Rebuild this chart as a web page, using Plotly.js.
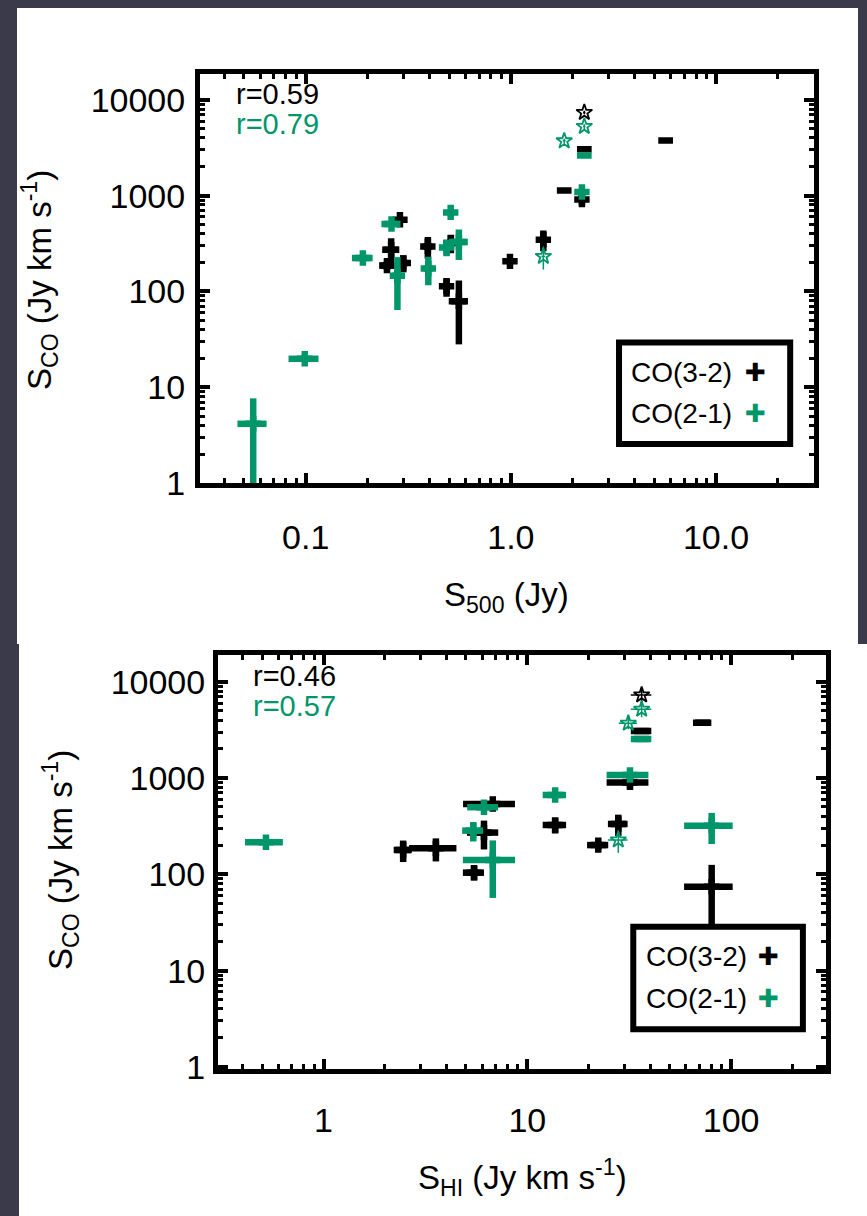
<!DOCTYPE html>
<html>
<head>
<meta charset="utf-8">
<script src="https://cdn.plot.ly/plotly-3.0.1.min.js"></script>
<style>
  html, body { margin: 0; padding: 0; background: #3b3a4a; }
  #chart { width: 867px; height: 1216px; }
</style>
</head>
<body>
<div id="chart"></div>
<script>
// ---------------- DATA ----------------
// Top panel: S_500 (Jy) vs S_CO (Jy km/s)
// CO(3-2)
const top32PlusS500 = [0.288, 0.261, 0.249, 0.299, 0.394, 0.51, 0.486, 0.558, 0.99, 1.44, 2.22];
const top32PlusSCO  = [561, 273, 186, 198, 295, 321, 113, 79, 206, 347, 910];
const top32PlusErrX = [0.01, 0.025, 0.02, 0.015, 0.02, 0.02, 0.02, 0.06, 0.02, 0.05, 0.05];
const top32PlusErrY = [20, 85, 20, 40, 75, 70, 25, 51, 15, 85, 110];
const top32DashS500 = [1.82, 2.28, 5.68];
const top32DashSCO  = [1133, 3050, 3770];
const top32StarS500 = [2.28];
const top32StarSCO  = [7380];
const top32StarErrX = [0.03];
const top32StarErrY = [300];
// CO(2-1)
const top21PlusS500 = [0.0555, 0.099, 0.19, 0.262, 0.28, 0.396, 0.509, 0.486, 0.558, 2.22];
const top21PlusSCO  = [4.15, 19.8, 223, 506, 146, 173, 668, 288, 328, 1090];
const top21PlusErrX = [0.009, 0.0165, 0.022, 0.028, 0.015, 0.02, 0.02, 0.02, 0.059, 0.05];
const top21PlusErrY = [3.5, 0.8, 10, 30, 82, 57, 30, 55, 115, 60];
const top21DashS500 = [2.28];
const top21DashSCO  = [2620];
const top21StarS500 = [1.44, 1.82, 2.28];
const top21StarSCO  = [232, 3730, 5270];
const top21StarErrX = [0.03, 0.03, 0.03];
const top21StarErrY = [63, 200, 300];
const topR = ['r=0.59', 'r=0.79'];

// Bottom panel: S_HI (Jy km/s) vs S_CO (Jy km/s)
// CO(3-2)
const bot32PlusSHI  = [2.46, 3.56, 6.77, 6.13, 5.48, 13.7, 22.3, 27.96, 31.9, 80.3];
const bot32PlusSCO  = [179, 186, 537, 271, 104, 325, 201, 333, 900, 74.3];
const bot32PlusErrX = [0.25, 0.93, 1.93, 1.07, 0.65, 1.8, 2.65, 3.1, 7.4, 21.5];
const bot32PlusErrY = [45, 50, 15, 90, 18, 60, 20, 83, 100, 51];
const bot32DashSHI  = [36.4, 72.5];
const bot32DashSCO  = [3077, 3750];
const bot32DashErrX = [4.2, 7.5];
const bot32StarSHI  = [36.4];
const bot32StarSCO  = [7280];
const bot32StarErrX = [4.2];
const bot32StarErrY = [1300];
// CO(2-1)
const bot21PlusSHI  = [0.522, 6.13, 5.43, 6.77, 13.7, 31.9, 80.3];
const bot21PlusSCO  = [215, 497, 284, 140.8, 666, 1075, 320];
const bot21PlusErrX = [0.11, 1.06, 0.64, 1.94, 1.8, 7.4, 21.5];
const bot21PlusErrY = [8, 40, 65, 84, 30, 60, 114];
const bot21DashSHI  = [36.4];
const bot21DashSCO  = [2543];
const bot21DashErrX = [4.2];
const bot21StarSHI  = [27.96, 31.3, 36.4];
const bot21StarSCO  = [227, 3700, 5170];
const bot21StarErrX = [3.1, 3.2, 4.2];
const bot21StarErrY = [60, 500, 900];
const botR = ['r=0.46', 'r=0.57'];

const legendLabels = ['CO(3-2)', 'CO(2-1)'];

// ---------------- STYLE ----------------
const BLACK = '#000000';
const GREEN = '#00966a';
const FONT = 'Liberation Sans, Arial, Helvetica, sans-serif';

function plusTrace(x, y, ex, ey, color, xa, ya) {
  return {
    type: 'scatter', mode: 'markers', x: x, y: y, xaxis: xa, yaxis: ya,
    showlegend: false, hoverinfo: 'skip',
    marker: { symbol: 'cross-thin-open', size: 11, color: color, line: { width: 6.5, color: color } },
    error_x: { type: 'data', array: ex, symmetric: true, thickness: 6.5, width: 0, color: color },
    error_y: { type: 'data', array: ey, symmetric: true, thickness: 6.5, width: 0, color: color }
  };
}
function dashTrace(x, y, ex, color, xa, ya) {
  const t = {
    type: 'scatter', mode: 'markers', x: x, y: y, xaxis: xa, yaxis: ya,
    showlegend: false, hoverinfo: 'skip',
    marker: { symbol: 'line-ew-open', size: 10.5, color: color, line: { width: 6.5, color: color } }
  };
  if (ex) t.error_x = { type: 'data', array: ex, symmetric: true, thickness: 6.5, width: 0, color: color };
  return t;
}
function starTrace(x, y, ex, ey, color, xa, ya) {
  return {
    type: 'scatter', mode: 'markers', x: x, y: y, xaxis: xa, yaxis: ya,
    showlegend: false, hoverinfo: 'skip',
    marker: { symbol: 'star-open', size: 12, color: color, line: { width: 1.8, color: color } },
    error_x: { type: 'data', array: ex, symmetric: true, thickness: 1.5, width: 0, color: color },
    error_y: { type: 'data', array: ey, symmetric: true, thickness: 1.5, width: 0, color: color }
  };
}

const traces = [
  plusTrace(top32PlusS500, top32PlusSCO, top32PlusErrX, top32PlusErrY, BLACK, 'x', 'y'),
  dashTrace(top32DashS500, top32DashSCO, null, BLACK, 'x', 'y'),
  starTrace(top32StarS500, top32StarSCO, top32StarErrX, top32StarErrY, BLACK, 'x', 'y'),
  plusTrace(top21PlusS500, top21PlusSCO, top21PlusErrX, top21PlusErrY, GREEN, 'x', 'y'),
  dashTrace(top21DashS500, top21DashSCO, null, GREEN, 'x', 'y'),
  starTrace(top21StarS500, top21StarSCO, top21StarErrX, top21StarErrY, GREEN, 'x', 'y'),

  plusTrace(bot32PlusSHI, bot32PlusSCO, bot32PlusErrX, bot32PlusErrY, BLACK, 'x2', 'y2'),
  dashTrace(bot32DashSHI, bot32DashSCO, bot32DashErrX, BLACK, 'x2', 'y2'),
  starTrace(bot32StarSHI, bot32StarSCO, bot32StarErrX, bot32StarErrY, BLACK, 'x2', 'y2'),
  plusTrace(bot21PlusSHI, bot21PlusSCO, bot21PlusErrX, bot21PlusErrY, GREEN, 'x2', 'y2'),
  dashTrace(bot21DashSHI, bot21DashSCO, bot21DashErrX, GREEN, 'x2', 'y2'),
  starTrace(bot21StarSHI, bot21StarSCO, bot21StarErrX, bot21StarErrY, GREEN, 'x2', 'y2')
];

const W = 867, H = 1216;
function axisCommon(extra) {
  return Object.assign({
    type: 'log', showgrid: false, zeroline: false,
    showline: true, linewidth: 5, linecolor: BLACK, mirror: 'allticks',
    ticks: 'inside', ticklen: 10, tickwidth: 4, tickcolor: BLACK,
    tickmode: 'linear', tick0: 0, dtick: 1,
    minor: { ticks: 'inside', ticklen: 5, tickwidth: 3, tickcolor: BLACK, dtick: 'D1' },
    tickfont: { family: FONT, size: 34, color: BLACK }
  }, extra);
}

const layout = {
  width: W, height: H,
  margin: { l: 0, r: 0, t: 0, b: 0 },
  paper_bgcolor: '#3b3a4a',
  plot_bgcolor: '#ffffff',
  showlegend: false,
  xaxis: axisCommon({ domain: [200 / W, 813.5 / W], range: [-1.515, 1.475], anchor: 'y', tickformat: '.1f', ticklabelstandoff: 20 }),
  yaxis: axisCommon({ domain: [1 - 483 / H, 1 - 73.5 / H], range: [0, 4.275], anchor: 'x', tickformat: 'd', ticklabelstandoff: 3 }),
  xaxis2: axisCommon({ domain: [218 / W, 826 / W], range: [-0.5177, 2.4657], anchor: 'y2', tickformat: 'd', ticklabelstandoff: 18 }),
  yaxis2: axisCommon({ domain: [1 - 1068.5 / H, 1 - 655 / H], range: [-0.0166, 4.277], anchor: 'x2', tickformat: 'd', ticklabelstandoff: 1 }),
  shapes: [
    // white panels
    { type: 'rect', xref: 'paper', yref: 'paper', x0: 17 / W, x1: 858 / W, y0: 1 - 644 / H, y1: 1 - 8 / H,
      fillcolor: '#ffffff', line: { width: 0 }, layer: 'below' },
    { type: 'rect', xref: 'paper', yref: 'paper', x0: 19 / W, x1: 1, y0: 0, y1: 1 - 644 / H,
      fillcolor: '#ffffff', line: { width: 0 }, layer: 'below' },
    // legend boxes
    { type: 'rect', xref: 'x domain', yref: 'y domain', x0: 0.683, x1: 0.962, y0: 0.095, y1: 0.343,
      fillcolor: '#ffffff', line: { width: 6, color: BLACK }, layer: 'above' },
    { type: 'rect', xref: 'x2 domain', yref: 'y2 domain', x0: 0.683, x1: 0.962, y0: 0.095, y1: 0.343,
      fillcolor: '#ffffff', line: { width: 6, color: BLACK }, layer: 'above' }
  ],
  annotations: []
};

function addPanelText(xref, yref, rTexts) {
  layout.annotations.push(
    { xref: xref, yref: yref, x: 0.055, y: 0.950, xanchor: 'left', yanchor: 'middle', showarrow: false,
      text: rTexts[0], font: { family: FONT, size: 29, color: BLACK } },
    { xref: xref, yref: yref, x: 0.055, y: 0.877, xanchor: 'left', yanchor: 'middle', showarrow: false,
      text: rTexts[1], font: { family: FONT, size: 29, color: GREEN } },
    { xref: xref, yref: yref, x: 0.700, y: 0.270, xanchor: 'left', yanchor: 'middle', showarrow: false,
      text: legendLabels[0], font: { family: FONT, size: 28, color: BLACK } },
    { xref: xref, yref: yref, x: 0.700, y: 0.170, xanchor: 'left', yanchor: 'middle', showarrow: false,
      text: legendLabels[1], font: { family: FONT, size: 28, color: BLACK } },
    { xref: xref, yref: yref, x: 0.906, y: 0.270, xanchor: 'center', yanchor: 'middle', showarrow: false,
      text: '\u271A', font: { family: 'DejaVu Sans', size: 25, color: BLACK } },
    { xref: xref, yref: yref, x: 0.906, y: 0.170, xanchor: 'center', yanchor: 'middle', showarrow: false,
      text: '\u271A', font: { family: 'DejaVu Sans', size: 25, color: GREEN } }
  );
}
addPanelText('x domain', 'y domain', topR);
addPanelText('x2 domain', 'y2 domain', botR);

// axis titles (as annotations for exact placement)
const titleFont = { family: FONT, size: 33, color: BLACK };
layout.annotations.push(
  { xref: 'paper', yref: 'paper', x: 39 / W, y: 1 - 280 / H, textangle: -90, showarrow: false,
    xanchor: 'center', yanchor: 'middle', text: 'S<sub>CO</sub> (Jy km s<sup>-1</sup>)', font: titleFont },
  { xref: 'paper', yref: 'paper', x: 506 / W, y: 1 - 597 / H, showarrow: false,
    xanchor: 'center', yanchor: 'middle', text: 'S<sub>500</sub> (Jy)', font: titleFont },
  { xref: 'paper', yref: 'paper', x: 60 / W, y: 1 - 860 / H, textangle: -90, showarrow: false,
    xanchor: 'center', yanchor: 'middle', text: 'S<sub>CO</sub> (Jy km s<sup>-1</sup>)', font: titleFont },
  { xref: 'paper', yref: 'paper', x: 522 / W, y: 1 - 1177 / H, showarrow: false,
    xanchor: 'center', yanchor: 'middle', text: 'S<sub>HI</sub> (Jy km s<sup>-1</sup>)', font: titleFont }
);

Plotly.newPlot('chart', traces, layout, { staticPlot: true, displayModeBar: false });
</script>
</body>
</html>
